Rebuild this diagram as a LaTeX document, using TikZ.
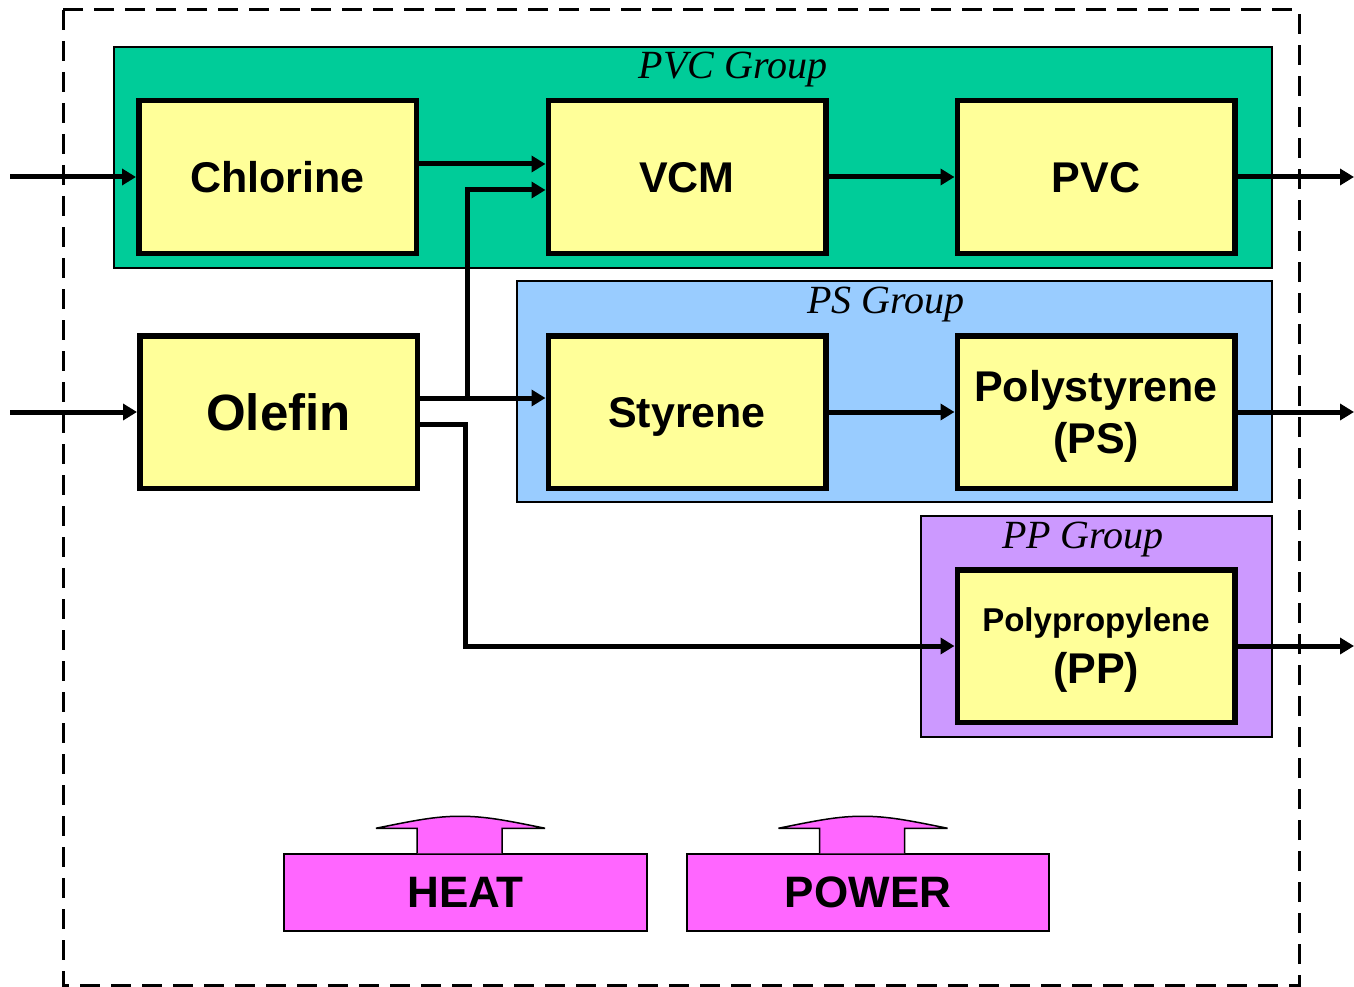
\documentclass[tikz,border=0pt]{standalone}
\usepackage{fontspec}
\setmainfont{Liberation Sans}
\newfontfamily\grpfont{Liberation Serif}
\usetikzlibrary{arrows.meta}
\definecolor{pvcg}{HTML}{00CC99}
\definecolor{psg}{HTML}{99CCFF}
\definecolor{ppg}{HTML}{CC99FF}
\definecolor{unitc}{HTML}{FFFF99}
\definecolor{energyc}{HTML}{FF66FF}
\newcommand{\feedarrow}{%
  \filldraw[fill=energyc, line width=1.5pt]
    (-48.5,0) -- (-48.5,-25) -- (-89.5,-25)
    .. controls (-50,-33) and (-30,-37) .. (-5.5,-37)
    .. controls (20,-37) and (40,-33) .. (79.5,-25)
    -- (36.5,-25) -- (36.5,0);}
\begin{document}
\begin{tikzpicture}[x=1pt,y=-1pt,
  unitbox/.style={draw, line width=5.5pt, fill=unitc, minimum width=277.5pt,
    minimum height=152.5pt, inner sep=0pt, align=center, text depth=0pt,
    font=\bfseries\fontsize{43}{52}\selectfont},
  groupbox/.style={draw, line width=1.5pt, inner sep=0pt},
  grouplabel/.style={font=\grpfont\itshape\fontsize{40}{42}\selectfont, anchor=base, inner sep=0pt},
  energybox/.style={draw, line width=1.5pt, fill=energyc, minimum height=77pt,
    inner sep=0pt, text depth=0pt, font=\bfseries\fontsize{44}{48}\selectfont},
  arr/.style={line width=5pt, -{Triangle[length=14pt,width=16pt]}},
  outline/.style={line width=3pt, dash pattern=on 20pt off 11pt}]
\useasboundingbox (0,0) rectangle (1354,987);
\fill[white] (0,0) rectangle (1354,987);
\draw[outline] (63,10) rectangle (1299,985);
% groups
\node[groupbox, fill=pvcg, minimum width=1158pt, minimum height=221pt] (gPVC) at (693,157.5) {};
\node[groupbox, fill=psg, minimum width=755pt, minimum height=221pt] (gPS) at (894.5,391.5) {};
\node[groupbox, fill=ppg, minimum width=351pt, minimum height=221pt] (gPP) at (1096.5,626.5) {};
\node[grouplabel] (lPVC) at (733,79) {PVC Group};
\node[grouplabel] (lPS) at (886,313) {PS Group};
\node[grouplabel] (lPP) at (1083,548) {PP Group};
% units
\node[unitbox] (chl) at (277.5,177) {Chlorine};
\node[unitbox] (vcm) at (687,177) {VCM};
\node[unitbox] (pvc) at (1096,177) {PVC};
\node[unitbox, font=\bfseries\fontsize{51}{56}\selectfont] (ole) at (278.5,412) {Olefin};
\node[unitbox] (sty) at (687,412) {Styrene};
\node[unitbox] (ps) at (1096,412) {Polystyrene\\(PS)};
\node[unitbox] (pp) at (1096,646) {{\fontsize{33}{52}\selectfont Polypropylene}\\(PP)};
% free ends
\coordinate (inA) at (10,177);
\coordinate (inB) at (10,412);
\coordinate (outA) at (1354,177);
\coordinate (outB) at (1354,412);
\coordinate (outC) at (1354,646);
\coordinate (j1) at (467,398);
\coordinate (j2) at (465,646);
% connectors
\draw[arr] (inA) -- (chl.west);
\draw[arr] (inB) -- (ole.west);
\draw[arr] ([yshift=13pt]chl.east) -- ([yshift=13pt]vcm.west);
\draw[arr] (j1) |- ([yshift=-13pt]vcm.west);
\draw[arr] ([yshift=14pt]ole.east) -- ([yshift=14pt]sty.west);
\draw[arr] ([yshift=-12pt]ole.east) -| (j2) -- (pp.west);
\draw[arr] (vcm.east) -- (pvc.west);
\draw[arr] (sty.east) -- (ps.west);
\draw[arr] (pvc.east) -- (outA);
\draw[arr] (ps.east) -- (outB);
\draw[arr] (pp.east) -- (outC);
% energy
\node[energybox, minimum width=363pt] (heat) at (465.5,892.5) {HEAT};
\node[energybox, minimum width=362pt] (power) at (868,892.5) {POWER};
\begin{scope}[shift={(heat.north)}]\feedarrow\end{scope}
\begin{scope}[shift={(power.north)}]\feedarrow\end{scope}
\end{tikzpicture}
\end{document}
